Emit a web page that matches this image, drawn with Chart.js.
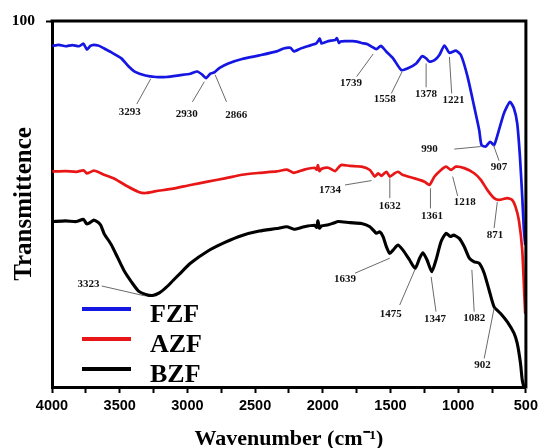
<!DOCTYPE html>
<html>
<head>
<meta charset="utf-8">
<script src="https://cdn.jsdelivr.net/npm/chart.js@4.4.0/dist/chart.umd.min.js"></script>
<style>
  html, body { margin: 0; padding: 0; background: #fff; }
</style>
</head>
<body>
<canvas id="ftir" width="542" height="448"></canvas>
<script>
// sample names, in legend order
const seriesNames = ['FZF', 'AZF', 'BZF'];

// [wavenumber (cm-1), transmittance]
const fzfPoints = [
  [3997,93.2],[3950,93.5],[3900,93.1],[3850,93.4],[3800,93.1],[3768,93.8],[3742,92.2],[3717,93.2],
  [3690,93.5],[3660,93.3],[3640,93.0],[3615,92.5],[3564,91.5],[3488,89.8],[3437,87.7],[3386,86.1],
  [3310,85.1],[3233,84.7],[3156,84.7],[3054,85.2],[2978,85.6],[2927,86.2],[2889,85.3],[2863,84.4],
  [2830,85.6],[2800,86.0],[2762,87.2],[2698,88.4],[2596,89.6],[2469,90.6],[2341,91.7],[2290,92.5],
  [2239,92.7],[2214,91.7],[2163,92.5],[2087,93.4],[2048,93.9],[2030,94.8],[2023,95.2],[2010,93.9],
  [1997,94.0],[1959,94.5],[1908,94.8],[1896,95.3],[1880,94.0],[1870,94.4],[1832,94.5],[1781,94.5],
  [1740,94.3],[1714,94.0],[1666,93.6],[1640,93.0],[1604,92.3],[1571,93.2],[1530,91.6],[1481,89.8],
  [1420,86.6],[1371,87.1],[1310,88.4],[1266,90.4],[1237,89.8],[1212,88.9],[1175,89.3],[1139,90.7],
  [1102,93.3],[1065,91.3],[1017,91.9],[980,90.7],[931,84.8],[882,76.6],[845,70.2],[828,66.1],
  [797,65.7],[764,67.0],[735,66.1],[706,69.3],[662,74.8],[618,77.9],[588,76.1],[564,72.0],
  [544,62.9],[527,52.0],[515,42.9],[505,38.8]
];
const azfPoints = [
  [3997,58.9],[3900,59.0],[3820,58.8],[3768,59.2],[3745,58.4],[3730,58.5],[3691,59.1],[3650,58.6],
  [3615,58.0],[3539,56.9],[3437,54.7],[3361,53.3],[3310,53.0],[3233,53.5],[3105,54.2],[2978,55.2],
  [2851,56.1],[2723,57.0],[2596,58.0],[2469,58.5],[2341,58.9],[2265,59.4],[2214,58.5],[2137,59.4],
  [2061,59.9],[2045,59.4],[2036,60.6],[2025,59.0],[2010,59.6],[1959,59.9],[1908,59.0],[1880,60.2],
  [1860,60.7],[1800,60.4],[1714,60.2],[1652,59.3],[1616,57.5],[1591,58.4],[1567,57.7],[1530,58.8],
  [1505,57.5],[1469,58.4],[1445,58.8],[1408,57.9],[1322,57.0],[1249,56.1],[1212,55.2],[1175,57.5],
  [1127,59.3],[1090,60.2],[1053,59.3],[1017,60.2],[955,59.8],[882,58.4],[833,56.6],[784,53.8],
  [735,51.6],[698,51.1],[637,51.6],[601,51.1],[577,49.3],[552,45.6],[527,37.4],[510,23.8],[505,20.0]
];
const bzfPoints = [
  [3997,45.2],[3900,45.4],[3820,45.2],[3768,45.8],[3745,44.6],[3730,44.7],[3691,45.6],[3660,45.0],
  [3640,44.2],[3615,41.9],[3564,39.0],[3513,35.2],[3462,31.4],[3411,28.6],[3361,26.2],[3309,25.3],
  [3258,25.0],[3207,25.7],[3157,27.2],[3106,29.1],[3055,31.0],[2978,33.8],[2851,37.1],[2723,39.5],
  [2596,41.4],[2469,42.6],[2341,43.3],[2265,43.8],[2214,43.1],[2137,43.8],[2061,44.2],[2045,43.6],
  [2036,45.4],[2025,43.4],[2010,44.0],[1959,44.3],[1920,44.8],[1885,45.2],[1800,44.9],[1714,44.7],
  [1652,43.8],[1604,42.0],[1579,42.4],[1555,41.1],[1530,38.3],[1505,36.5],[1481,37.4],[1445,38.8],
  [1408,37.4],[1359,34.7],[1318,32.4],[1285,35.2],[1261,36.7],[1230,34.7],[1195,31.5],[1164,34.7],
  [1127,39.7],[1090,42.0],[1058,41.1],[1034,41.5],[992,40.6],[955,38.3],[918,35.2],[882,34.2],
  [845,33.8],[808,31.1],[772,26.5],[735,21.9],[687,20.1],[637,17.8],[588,14.7],[564,11.9],
  [540,6.5],[527,1.9],[515,0]
];

const xTickLabels = [4000, 3500, 3000, 2500, 2000, 1500, 1000, 500];
const yTickLabels = [100];

// peak callouts: text, point on the curve, end of leader, text centre (data units)
const fzfPeaks = [
  ['3293', [3271,84.2], [3374,77.3], [3426,75.1]],
  ['2930', [2875,83.4], [2963,77.9], [3004,74.6]],
  ['2866', [2795,85.3], [2711,77.9], [2640,74.4]],
  ['1739', [1628,91.0], [1750,84.8], [1792,83.0]],
  ['1558', [1415,86.1], [1494,80.2], [1542,78.6]],
  ['1378', [1237,88.4], [1237,81.9], [1237,80.1]],
  ['1221', [1065,90.2], [1048,80.2], [1034,78.4]],
  ['990',  [833,65.7],  [1029,65.0], [1212,64.9]],
  ['907',  [740,66.1],  [698,61.8],  [698,60.0]]
];
const azfPeaks = [
  ['1734', [1640,56.4], [1836,55.2], [1946,53.7]],
  ['1632', [1505,57.0], [1505,51.6], [1505,49.5]],
  ['1361', [1205,54.3], [1205,48.8], [1193,46.8]],
  ['1218', [1041,57.5], [1004,52.2], [951,50.5]],
  ['871',  [711,50.6],  [735,43.4],  [728,41.5]]
];
const bzfPeaks = [
  ['3323', [3315,24.9], [3633,27.6], [3731,28.1]],
  ['1639', [1505,35.2], [1762,31.1], [1836,29.4]],
  ['1475', [1318,32.2], [1432,22.4], [1498,19.9]],
  ['1347', [1200,30.1], [1164,20.6], [1171,18.6]],
  ['1082', [899,32.0],  [882,20.6],  [882,18.8]],
  ['902',  [735,21.5],  [808,7.8],   [821,6.0]]
];

const toXY = pts => pts.map(p => ({ x: p[0], y: p[1] }));

// leader lines and peak numbers
const peakLabels = {
  id: 'peakLabels',
  afterDatasetsDraw(chart) {
    const ctx = chart.ctx;
    const xs = chart.scales.x, ys = chart.scales.y;
    ctx.save();
    ctx.font = 'bold 11px "Liberation Serif"';
    ctx.textAlign = 'center';
    ctx.textBaseline = 'middle';
    [fzfPeaks, azfPeaks, bzfPeaks].forEach(list => {
      list.forEach(([txt, tip, tail, at]) => {
        ctx.strokeStyle = '#6a6a6a';
        ctx.lineWidth = 1;
        ctx.beginPath();
        ctx.moveTo(xs.getPixelForValue(tail[0]), ys.getPixelForValue(tail[1]));
        ctx.lineTo(xs.getPixelForValue(tip[0]), ys.getPixelForValue(tip[1]));
        ctx.stroke();
        ctx.fillStyle = '#111';
        ctx.fillText(txt, xs.getPixelForValue(at[0]), ys.getPixelForValue(at[1]));
      });
    });
    ctx.restore();
  }
};

// legend drawn inside the plot, bottom left
const insideLegend = {
  id: 'insideLegend',
  afterDatasetsDraw(chart) {
    const { ctx, chartArea } = chart;
    ctx.save();
    ctx.font = 'bold 26px "Liberation Serif"';
    ctx.textBaseline = 'alphabetic';
    chart.data.datasets.forEach((ds, i) => {
      const y = chartArea.bottom - 78 + i * 30;
      ctx.strokeStyle = ds.borderColor;
      ctx.lineWidth = 4;
      ctx.beginPath();
      ctx.moveTo(chartArea.left + 30, y);
      ctx.lineTo(chartArea.left + 79, y);
      ctx.stroke();
      ctx.fillStyle = '#000';
      ctx.fillText(ds.label, chartArea.left + 98, y + 12.5);
    });
    ctx.restore();
  }
};

// top and right sides of the box
const frame = {
  id: 'frame',
  afterDatasetsDraw(chart) {
    const { ctx, chartArea: a } = chart;
    ctx.save();
    ctx.strokeStyle = '#000';
    ctx.lineWidth = 3;
    ctx.beginPath();
    ctx.moveTo(a.left - 1.5, a.top);
    ctx.lineTo(a.right, a.top);
    ctx.lineTo(a.right, a.bottom + 1.5);
    ctx.stroke();
    ctx.restore();
  }
};

const lineStyle = { pointRadius: 0, tension: 0.2, fill: false };

var ftirChart = new Chart(document.getElementById('ftir').getContext('2d'), {
  type: 'line',
  data: {
    datasets: [
      Object.assign({ label: seriesNames[0], data: toXY(fzfPoints), borderColor: '#1616e2', borderWidth: 2.7 }, lineStyle),
      Object.assign({ label: seriesNames[1], data: toXY(azfPoints), borderColor: '#e81616', borderWidth: 2.7 }, lineStyle),
      Object.assign({ label: seriesNames[2], data: toXY(bzfPoints), borderColor: '#000000', borderWidth: 3.1 }, lineStyle)
    ]
  },
  options: {
    responsive: false,
    animation: false,
    layout: { padding: { top: 21, right: 13, bottom: 0, left: 0 } },
    plugins: {
      legend: { display: false },
      tooltip: { enabled: false }
    },
    scales: {
      x: {
        type: 'linear',
        reverse: true,
        min: 500,
        max: 4000,
        afterFit: s => { s.height = 61; },
        ticks: {
          stepSize: 250,
          autoSkip: false,
          maxRotation: 0,
          padding: 4,
          color: '#000',
          font: { family: 'Liberation Sans', size: 14.5, weight: 'bold' },
          callback: v => xTickLabels.includes(v) ? String(v) : ''
        },
        grid: { drawOnChartArea: false, drawTicks: true, tickLength: 6, tickWidth: 2, color: '#000' },
        border: { display: true, width: 3, color: '#000' },
        title: {
          display: true,
          text: 'Wavenumber (cm\u207B\u00B9)',
          color: '#000',
          padding: 0,
          font: { family: 'Liberation Serif', size: 22, weight: 'bold', lineHeight: 0.76 }
        }
      },
      y: {
        min: 0,
        max: 100,
        afterBuildTicks: s => { s.ticks = yTickLabels.map(v => ({ value: v })); },
        afterFit: s => { s.width = 52; },
        ticks: {
          padding: 11,
          color: '#000',
          font: { family: 'Liberation Serif', size: 15.5, weight: 'bold' }
        },
        grid: { drawOnChartArea: false, tickLength: 6, tickWidth: 2, color: '#000' },
        border: { display: true, width: 3, color: '#000' },
        title: {
          display: true,
          text: 'Transmittence',
          color: '#000',
          padding: { top: 10, bottom: 0 },
          font: { family: 'Liberation Serif', size: 25, weight: 'bold' }
        }
      }
    }
  },
  plugins: [peakLabels, insideLegend, frame]
});
</script>
</body>
</html>
